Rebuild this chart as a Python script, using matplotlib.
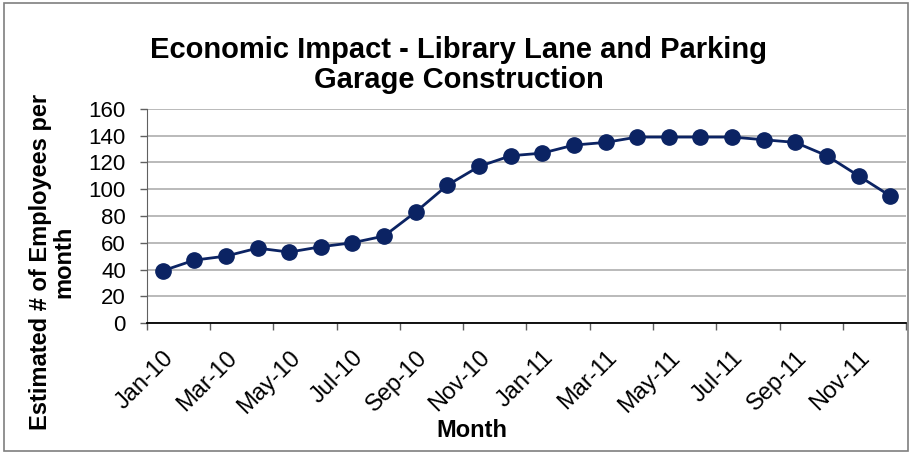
import matplotlib
matplotlib.use("Agg")
import matplotlib.pyplot as plt
from matplotlib.patches import Rectangle

months = ["Jan-10", "Feb-10", "Mar-10", "Apr-10", "May-10", "Jun-10",
          "Jul-10", "Aug-10", "Sep-10", "Oct-10", "Nov-10", "Dec-10",
          "Jan-11", "Feb-11", "Mar-11", "Apr-11", "May-11", "Jun-11",
          "Jul-11", "Aug-11", "Sep-11", "Oct-11", "Nov-11", "Dec-11"]
employees = [39, 47, 50, 56, 53, 57, 60, 65, 83, 103, 117, 125,
             127, 133, 135, 139, 139, 139, 139, 137, 135, 125, 110, 95]

plt.rcParams["font.family"] = ["Liberation Sans", "DejaVu Sans"]

fig = plt.figure(figsize=(9.12, 4.54), dpi=100)
ax = fig.add_axes([0.161, 0.2885, 0.8325, 0.4715])

x = list(range(len(months)))
ax.plot(x, employees, color="#0b2363", linewidth=2, marker="o",
        markersize=11, markerfacecolor="#0b2363", markeredgecolor="#0b2363",
        zorder=3)

ax.set_xlim(-0.5, len(months) - 0.5)
ax.set_ylim(0, 160)
ax.set_yticks(range(0, 161, 20))
ax.yaxis.grid(True, color="#b4b4b4", linewidth=1.3)
ax.set_axisbelow(True)

# tick marks on category boundaries, labels on every other month
ax.set_xticks([i - 0.5 for i in range(0, len(months) + 1, 2)])
ax.set_xticklabels([])
ax.set_xticks(x[::2], minor=True)
ax.set_xticklabels(months[::2], minor=True, rotation=45, ha="right",
                   rotation_mode="anchor", fontsize=17)
ax.tick_params(axis="x", which="major", direction="out", length=5,
               width=1, color="#606060")
ax.tick_params(axis="x", which="minor", length=0, pad=17)
ax.tick_params(axis="y", direction="out", length=5, width=1,
               color="#606060", labelsize=16, pad=10)

for s in ["top", "right"]:
    ax.spines[s].set_visible(False)
ax.spines["left"].set_color("#606060")
ax.spines["bottom"].set_color("black")
ax.spines["bottom"].set_linewidth(1.3)

fig.text(0.503, 0.857, "Economic Impact - Library Lane and Parking\nGarage Construction",
         ha="center", va="center", fontsize=21, fontweight="bold",
         linespacing=1.1)
fig.text(0.5175, 0.051, "Month", ha="center", va="center",
         fontsize=17, fontweight="bold")
fig.text(0.057, 0.423, "Estimated # of Employees per\nmonth", ha="center",
         va="center", rotation=90, fontsize=17, fontweight="bold",
         linespacing=1.0)

fig.patches.append(Rectangle((0.004, 0.007), 0.992, 0.986,
                             transform=fig.transFigure, fill=False,
                             edgecolor="#7f7f7f", linewidth=1.2))

plt.savefig("out.png", dpi=100)
